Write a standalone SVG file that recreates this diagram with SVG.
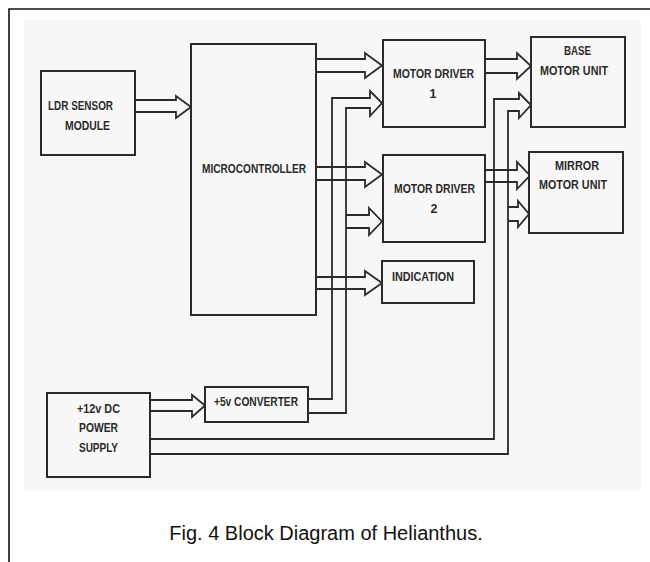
<svg xmlns="http://www.w3.org/2000/svg" width="650" height="562" viewBox="0 0 650 562">
<style>
.box{fill:#f8f8f8;stroke:#2b2b2b;stroke-width:2}
.lbl{font-family:"Liberation Sans",Arial,sans-serif;font-weight:bold;font-size:12.5px;fill:#2a2a2a}
.ln{fill:none;stroke:#2b2b2b;stroke-width:1.8;stroke-linejoin:miter}
.cap{font-family:"Liberation Sans",Arial,sans-serif;font-size:20px;fill:#111}
</style>
<rect x="0" y="0" width="650" height="562" fill="#ffffff"/>
<path d="M9,562 V9 H650" fill="none" stroke="#111" stroke-width="1.6"/>
<rect x="24" y="20" width="617" height="470" fill="#f7f7f7"/>

<g id="connectors">
  <path class="ln" d="M135,100 H176 V96 L191,107 L176,118 V112 H135"/>
  <path class="ln" d="M316,59 H365 V53 L382,65.5 L365,78 V72 H316"/>
  <path class="ln" d="M316,167 H365 V162 L382,174.5 L365,187 V180 H316"/>
  <path class="ln" d="M316,277 H365 V271 L382,283 L365,295 V289 H316"/>
  <path class="ln" d="M485,59 H517 V53 L531,66 L517,79 V73 H485"/>
  <path class="ln" d="M485,170 H517 V162 L530,175.5 L517,189 V182 H485"/>
  <path class="ln" d="M150,400 H192 V395 L205,405.5 L192,417 V411 H150"/>
  <path class="ln" d="M308,399 H332 V98 H370 V91 L382,103 L370,116 V108 H346 V413 H308"/>
  <path class="ln" d="M346,215 H369 V208 L382,221.5 L369,235 V228 H346"/>
  <path class="ln" d="M150,439 H494 V99 H519 V93 L531,105 L519,118 V111 H508 V454 H150"/>
  <path class="ln" d="M508,207 H518 V201 L529,214 L518,227 V221 H508"/>
</g>

<g id="ldr">
  <rect class="box" x="41" y="71" width="94" height="84"/>
  <text class="lbl" x="48" y="110" textLength="65" lengthAdjust="spacingAndGlyphs">LDR SENSOR</text>
  <text class="lbl" x="65" y="130" textLength="45" lengthAdjust="spacingAndGlyphs">MODULE</text>
</g>
<g id="micro">
  <rect class="box" x="191" y="44" width="125" height="271"/>
  <text class="lbl" x="202" y="173" textLength="104" lengthAdjust="spacingAndGlyphs">MICROCONTROLLER</text>
</g>
<g id="md1">
  <rect class="box" x="383" y="40" width="102" height="87"/>
  <text class="lbl" x="393" y="78" textLength="81" lengthAdjust="spacingAndGlyphs">MOTOR DRIVER</text>
  <text class="lbl" x="433" y="98" text-anchor="middle">1</text>
</g>
<g id="md2">
  <rect class="box" x="383" y="155" width="102" height="87"/>
  <text class="lbl" x="394" y="193" textLength="81" lengthAdjust="spacingAndGlyphs">MOTOR DRIVER</text>
  <text class="lbl" x="434" y="213" text-anchor="middle">2</text>
</g>
<g id="base">
  <rect class="box" x="531" y="37" width="94" height="90"/>
  <text class="lbl" x="564" y="55" textLength="27" lengthAdjust="spacingAndGlyphs">BASE</text>
  <text class="lbl" x="540" y="75" textLength="68" lengthAdjust="spacingAndGlyphs">MOTOR UNIT</text>
</g>
<g id="mirror">
  <rect class="box" x="529" y="152" width="94" height="81"/>
  <text class="lbl" x="555" y="170" textLength="44" lengthAdjust="spacingAndGlyphs">MIRROR</text>
  <text class="lbl" x="539" y="189" textLength="68" lengthAdjust="spacingAndGlyphs">MOTOR UNIT</text>
</g>
<g id="indication">
  <rect class="box" x="382" y="261" width="92" height="42"/>
  <text class="lbl" x="392" y="281" textLength="62" lengthAdjust="spacingAndGlyphs">INDICATION</text>
</g>
<g id="psu">
  <rect class="box" x="47" y="393" width="103" height="84"/>
  <text class="lbl" x="77" y="413" textLength="43" lengthAdjust="spacingAndGlyphs">+12v DC</text>
  <text class="lbl" x="79" y="432" textLength="39" lengthAdjust="spacingAndGlyphs">POWER</text>
  <text class="lbl" x="79" y="452" textLength="39" lengthAdjust="spacingAndGlyphs">SUPPLY</text>
</g>
<g id="conv">
  <rect class="box" x="205" y="387" width="103" height="35"/>
  <text class="lbl" x="214" y="406" textLength="84" lengthAdjust="spacingAndGlyphs">+5v CONVERTER</text>
</g>

<text class="cap" x="326" y="540" text-anchor="middle">Fig. 4 Block Diagram of Helianthus.</text>
</svg>
